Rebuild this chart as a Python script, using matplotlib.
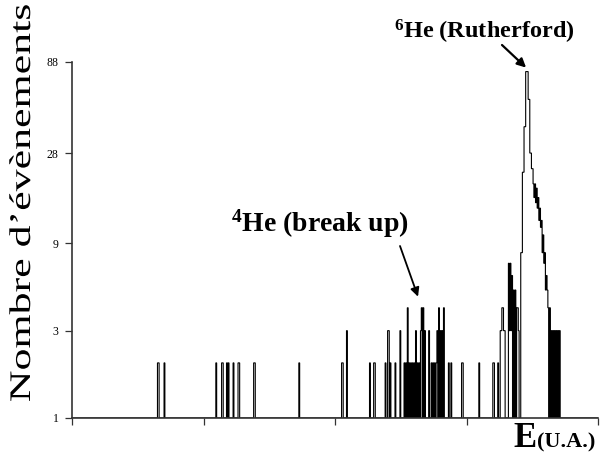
import numpy as np
import matplotlib
matplotlib.use("Agg")
import matplotlib.pyplot as plt
from matplotlib.patheffects import AbstractPathEffect
from matplotlib.ticker import NullLocator
from matplotlib.transforms import Affine2D

# ---- spectrum: counts per channel (channels not listed sit at the floor, 1) ----
n_channels = 640
hit_channels = [104, 105, 112, 175, 182, 183, 188, 190, 196, 202,
                203, 221, 222, 276, 328, 329, 334, 362, 367, 368,
                381, 384, 385, 387, 393, 399, 404, 406, 408, 410,
                412, 414, 416, 418, 420, 422, 424, 425, 427, 429,
                434, 437, 439, 441, 443, 444, 446, 448, 450, 452,
                458, 461, 474, 475, 495, 512, 513, 518, 521, 522,
                523, 524, 525, 526, 531, 532, 533, 534, 535, 537,
                539, 541, 542, 543,
                546, 547, 548, 549, 550, 551, 552, 553, 554, 555,
                556, 557, 558, 559, 560, 561, 562, 563, 564, 565,
                566, 567, 568, 569, 570, 571, 572, 573, 574, 575,
                576, 577, 578, 579, 581, 583, 585, 587, 589, 591,
                593]
hit_counts = [2, 2, 2, 2, 2, 2, 2, 2, 2, 2,
              2, 2, 2, 2, 2, 2, 3, 2, 2, 2,
              2, 3, 3, 2, 2, 3, 2, 2, 4, 2,
              2, 2, 2, 3, 2, 2, 3, 4, 4, 3,
              3, 2, 2, 2, 2, 3, 4, 3, 3, 4,
              2, 2, 2, 2, 2, 2, 2, 2, 3, 3,
              4, 4, 3, 3, 7, 3, 7, 3, 6, 5,
              5, 4, 4, 3,
              8, 8, 22, 22, 39, 39, 78, 78, 78, 55,
              55, 28, 28, 23, 23, 19, 16, 19, 15, 18,
              14, 16, 12, 14, 11, 12, 8, 10, 7, 8,
              5, 6, 5, 4, 4, 3, 3, 3, 3, 3,
              3]

x_ticks = [0, 160, 320, 480, 640]
y_ticks = [1, 3, 9, 28, 88]
y_tick_labels = ["1", "3", "9", "28", "88"]

counts = np.ones(n_channels)
counts[hit_channels] = hit_counts
edges = np.arange(n_channels + 1)


class Stretch(AbstractPathEffect):
    """Scale a text's outline about its anchor point."""

    def __init__(self, text, sx=1.0, sy=1.0):
        super().__init__()
        self._text = text
        self._sx, self._sy = sx, sy

    def draw_path(self, renderer, gc, tpath, affine, rgbFace=None):
        cx, cy = self._text.get_transform().transform(self._text.get_position())
        st = Affine2D().translate(-cx, -cy).scale(self._sx, self._sy).translate(cx, cy)
        renderer.draw_path(gc, tpath, affine + st, rgbFace)


plt.rcParams["mathtext.fontset"] = "custom"
plt.rcParams["mathtext.rm"] = "Liberation Serif:bold"
plt.rcParams["mathtext.bf"] = "Liberation Serif:bold"
plt.rcParams["mathtext.it"] = "Liberation Serif:bold"

W, H = 613, 454
fig = plt.figure(figsize=(W / 100, H / 100), dpi=100)
ax = fig.add_axes([72 / W, 36 / H, 526 / W, 356 / H])

ax.stairs(counts, edges, baseline=None, color="black", lw=0.8)

ax.set_yscale("log")
ax.set_xlim(0, n_channels)
ax.set_ylim(1, 88)
ax.set_yticks(y_ticks, y_tick_labels)
ax.yaxis.set_minor_locator(NullLocator())
ax.set_xticks(x_ticks)
ax.tick_params(axis="x", labelbottom=False)
ax.tick_params(direction="out", length=5, width=0.9, color="#333333", pad=4.5)
for lab in ax.get_yticklabels():
    lab.set_fontfamily("Liberation Serif")
    lab.set_fontsize(8.5)

for side in ("top", "right"):
    ax.spines[side].set_visible(False)
for side in ("left", "bottom"):
    ax.spines[side].set_color("#333333")
    ax.spines[side].set_linewidth(1.2)

# y-axis title, drawn elongated along its baseline
ylab = fig.text(23 / W, 1 - 203 / H, "Nombre d\u2019évènements", rotation=90,
                ha="center", va="center", fontfamily="Liberation Serif",
                fontsize=21.5)
ylab.set_path_effects([Stretch(ylab, 1.0, 1.47)])

# x-axis title
fig.text(513 / W, 7 / H, "E", ha="left", va="baseline",
         fontfamily="Liberation Serif", fontweight="bold", fontsize=25)
fig.text(537 / W, 7 / H, "(U.A.)", ha="left", va="baseline",
         fontfamily="Liberation Serif", fontweight="bold", fontsize=16)

# peak labels with arrows
fig.text(484 / W, 1 - 39 / H, r"$^{6}$He (Rutherford)", ha="center",
         va="baseline", fontfamily="Liberation Serif", fontweight="bold",
         fontsize=17.5)
ax.annotate("", xy=(552.5, 82), xycoords="data",
            xytext=(502, H - 45), textcoords="figure pixels",
            arrowprops=dict(arrowstyle="-|>", color="black", lw=1.6,
                            mutation_scale=13, shrinkA=0, shrinkB=0))

fig.text(320 / W, 1 - 232 / H, r"$^{4}$He (break up)", ha="center",
         va="baseline", fontfamily="Liberation Serif", fontweight="bold",
         fontsize=20)
ax.annotate("", xy=(421, 4.6), xycoords="data",
            xytext=(400, H - 246), textcoords="figure pixels",
            arrowprops=dict(arrowstyle="-|>", color="black", lw=1.3,
                            mutation_scale=13, shrinkA=0, shrinkB=0))

fig.savefig("out.png", dpi=100)
